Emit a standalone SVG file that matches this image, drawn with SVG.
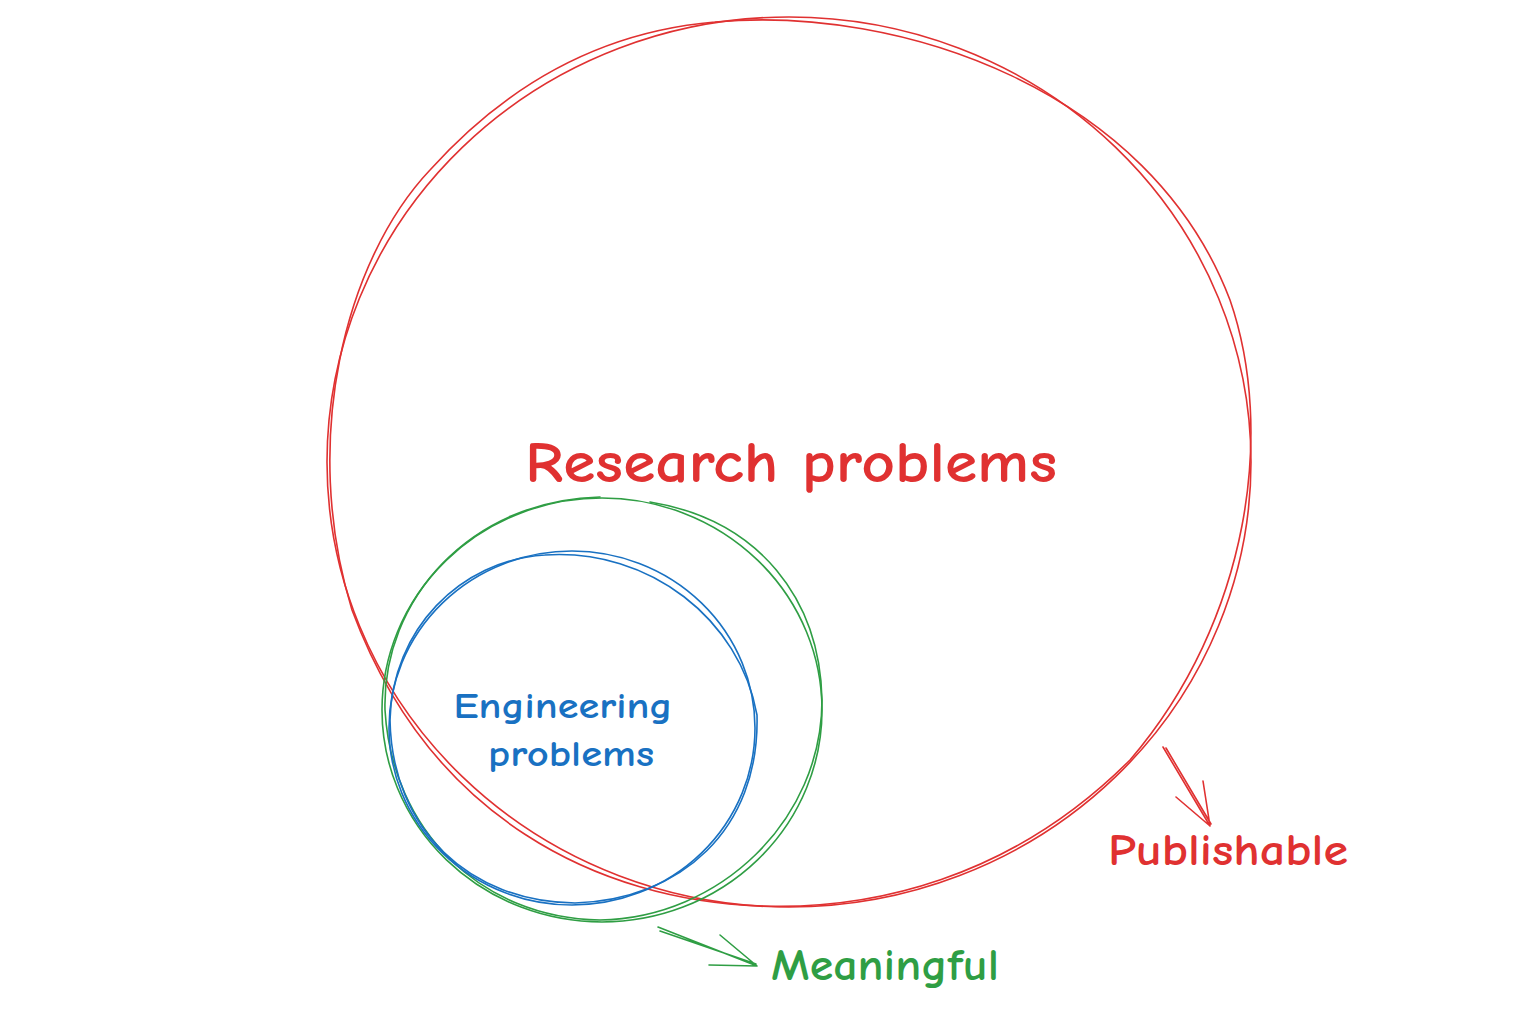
<svg xmlns="http://www.w3.org/2000/svg" width="1538" height="1012" viewBox="0 0 1538 1012">
<style>
.r{stroke:#e03131}
.g{stroke:#2f9e44}
.b{stroke:#1971c2}
.s{fill:none;stroke-width:1.6;stroke-linecap:round;stroke-linejoin:round}
.t{font-family:"Comic Neue","Liberation Sans",sans-serif;font-weight:700}
</style>
<rect width="1538" height="1012" fill="#ffffff"/>
<g id="research">
<ellipse class="s r" cx="789" cy="462" rx="462" ry="445"/>
<path class="s r" d="M715 22 C900 5 1150 90 1230 300 C1275 430 1250 620 1130 760 C1010 880 870 910 760 906 C600 900 430 820 352 610 C300 440 345 260 430 170 C520 70 620 30 715 22" />
<text class="t" x="525" y="482" font-size="58" fill="#e03131" textLength="532" lengthAdjust="spacingAndGlyphs">Research problems</text>
</g>
<g id="meaningful-set">
<ellipse class="s g" cx="602" cy="710" rx="220" ry="212"/>
<path class="s g" d="M650 502 C760 520 820 600 822 700 C822 820 720 918 600 920 C480 918 392 830 385 710 C382 600 470 500 600 497" />
</g>
<g id="engineering">
<ellipse class="s b" cx="572" cy="728" rx="183" ry="177"/>
<path class="s b" d="M545 555 C650 548 740 620 757 715 C760 830 680 900 575 903 C470 902 392 830 390 720 C392 630 460 560 545 555" />
<text class="t" font-size="36" fill="#1971c2" text-anchor="middle"><tspan x="563" y="718" textLength="219" lengthAdjust="spacingAndGlyphs">Engineering</tspan><tspan x="571" y="766" textLength="166" lengthAdjust="spacingAndGlyphs">problems</tspan></text>
</g>
<g id="connectors">
<path class="s r" d="M1163 747 L1210 826 M1166 748 L1211 824 M1210 826 L1203 781 M1210 826 L1176 797"/>
<path class="s g" d="M658 927 L757 966 M660 931 L756 964 M757 966 L720 935 M757 966 L709 965"/>
</g>
<g id="publishable">
<text class="t" x="1108" y="865" font-size="44" fill="#e03131" textLength="240" lengthAdjust="spacingAndGlyphs">Publishable</text>
</g>
<g id="meaningful">
<text class="t" x="771" y="980" font-size="44" fill="#2f9e44" textLength="228" lengthAdjust="spacingAndGlyphs">Meaningful</text>
</g>
</svg>
